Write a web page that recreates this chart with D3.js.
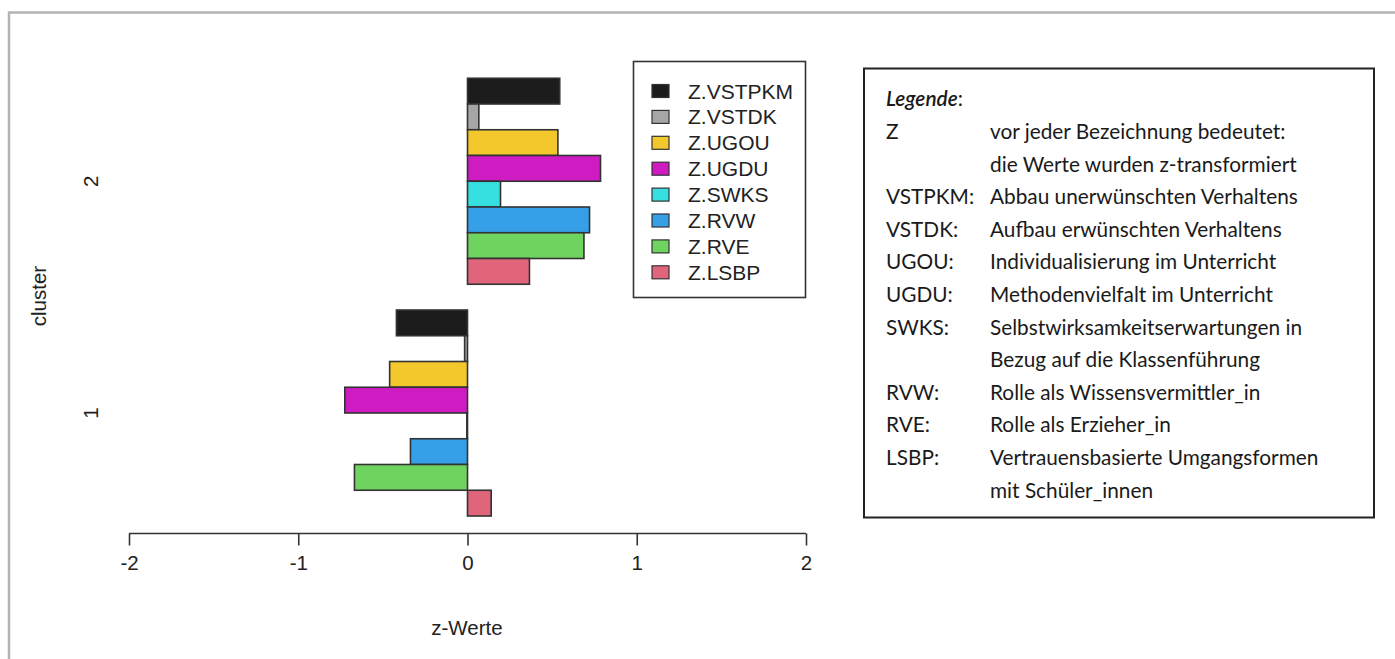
<!DOCTYPE html>
<html><head><meta charset="utf-8">
<script src="https://cdn.jsdelivr.net/npm/d3@7/dist/d3.min.js"></script>
<style>body{margin:0;background:#fff}svg{display:block}</style>
</head><body>
<svg id="c" width="1395" height="659"></svg>
<script>
const clusters = ["1", "2"];
const seriesNames = ["Z.VSTPKM","Z.VSTDK","Z.UGOU","Z.UGDU","Z.SWKS","Z.RVW","Z.RVE","Z.LSBP"];
const seriesColors = ["#1c1c1c","#a6a6a6","#f2c82d","#cf1cc2","#36e0e0","#35a0e8","#6fd35f","#e0647a"];
const cluster1Values = [-0.42, -0.017, -0.46, -0.725, -0.004, -0.337, -0.668, 0.14];
const cluster2Values = [0.545, 0.067, 0.534, 0.786, 0.195, 0.721, 0.688, 0.366];
const xTicks = [-2, -1, 0, 1, 2];
const legendLabels = ["Z", "", "VSTPKM:", "VSTDK:", "UGOU:", "UGDU:", "SWKS:", "", "RVW:", "RVE:", "LSBP:", ""];
const legendTexts = ["vor jeder Bezeichnung bedeutet:", "die Werte wurden z-transformiert",
  "Abbau unerwünschten Verhaltens", "Aufbau erwünschten Verhaltens",
  "Individualisierung im Unterricht", "Methodenvielfalt im Unterricht",
  "Selbstwirksamkeitserwartungen in", "Bezug auf die Klassenführung",
  "Rolle als Wissensvermittler_in", "Rolle als Erzieher_in",
  "Vertrauensbasierte Umgangsformen", "mit Schüler_innen"];

const values = [cluster1Values, cluster2Values];
const svg = d3.select("#c");
const font = "'Liberation Sans', Arial, sans-serif";

// outer frame
svg.append("path").attr("d","M9,659 V12.5 H1395").attr("fill","none")
  .attr("stroke","#b3b3b3").attr("stroke-width",2.5);

const x = d3.scaleLinear().domain([-2,2]).range([129,806]);
const nS = seriesNames.length;
const groupUnits = nS + 1;
const y = d3.scaleLinear().domain([0, clusters.length*groupUnits]).range([541.75, 78.25]);

const bars = [];
values.forEach((vals, ci) => vals.forEach((v, j) => {
  const u0 = ci*groupUnits + 1 + (nS-1-j);
  bars.push({v, j, u0});
}));
svg.append("g").selectAll("rect").data(bars).join("rect")
  .attr("x", d => x(Math.min(0,d.v)))
  .attr("width", d => Math.abs(x(d.v)-x(0)))
  .attr("y", d => y(d.u0+1))
  .attr("height", d => y(d.u0)-y(d.u0+1))
  .attr("fill", d => seriesColors[d.j])
  .attr("stroke","#333").attr("stroke-width",1.6);

// x axis
const xAxis = d3.axisBottom(x).tickValues(xTicks).tickSize(12).tickPadding(10).tickFormat(d3.format("d"));
const ga = svg.append("g").attr("transform","translate(0,533.5)").call(xAxis);
ga.select(".domain").attr("stroke","#333").attr("stroke-width",1.6).attr("d","M129,0H806");
ga.selectAll(".tick line").attr("stroke","#333").attr("stroke-width",1.6);
ga.selectAll(".tick text").attr("font-family",font).attr("font-size",20.5).attr("fill","#222")
  .text(d => d < 0 ? "-" + Math.abs(d) : d);

svg.append("text").attr("x",467).attr("y",627).attr("text-anchor","middle")
  .attr("dominant-baseline","central").attr("font-family",font).attr("font-size",20.5)
  .attr("fill","#222").text("z-Werte");

// y labels
clusters.forEach((c, ci) => {
  const cy = y(ci*groupUnits + 1 + nS/2);
  svg.append("text").attr("transform",`translate(90,${cy}) rotate(-90)`)
    .attr("text-anchor","middle").attr("dominant-baseline","central")
    .attr("font-family",font).attr("font-size",20.5).attr("fill","#222").text(c);
});
svg.append("text").attr("transform","translate(38,296) rotate(-90)")
  .attr("text-anchor","middle").attr("dominant-baseline","central")
  .attr("font-family",font).attr("font-size",20.5).attr("fill","#222").text("cluster");

// series legend
const lg = svg.append("g");
lg.append("rect").attr("x",633.5).attr("y",61.5).attr("width",172).attr("height",236)
  .attr("fill","#fff").attr("stroke","#333").attr("stroke-width",1.6);
seriesNames.forEach((s,i) => {
  const cy = 91 + i*25.9;
  lg.append("rect").attr("x",652).attr("y",cy-6.5).attr("width",17).attr("height",13)
    .attr("fill",seriesColors[i]).attr("stroke","#333").attr("stroke-width",1.2);
  lg.append("text").attr("x",688).attr("y",cy).attr("dominant-baseline","central")
    .attr("font-family",font).attr("font-size",21).attr("fill","#222").text(s);
});

// text legend box
const tb = svg.append("g");
tb.append("rect").attr("x",864).attr("y",68.5).attr("width",510).attr("height",449)
  .attr("fill","#fff").attr("stroke","#222").attr("stroke-width",2);
const tf = "Lato, 'Noto Sans', sans-serif";
const fs = 20.8;
const t0 = tb.append("text").attr("x",886).attr("y",97).attr("dominant-baseline","central")
  .attr("font-family",tf).attr("font-size",fs).attr("fill","#1a1a1a");
t0.append("tspan").attr("font-style","italic").attr("font-weight",600).text("Legende");
t0.append("tspan").text(":");
legendTexts.forEach((t,i) => {
  const cy = 130.5 + i*32.6;
  tb.append("text").attr("x",886).attr("y",cy).attr("dominant-baseline","central")
    .attr("font-family",tf).attr("font-size",fs).attr("fill","#1a1a1a").text(legendLabels[i]);
  tb.append("text").attr("x",990).attr("y",cy).attr("dominant-baseline","central")
    .attr("font-family",tf).attr("font-size",fs).attr("fill","#1a1a1a").text(t);
});
</script>
</body></html>
